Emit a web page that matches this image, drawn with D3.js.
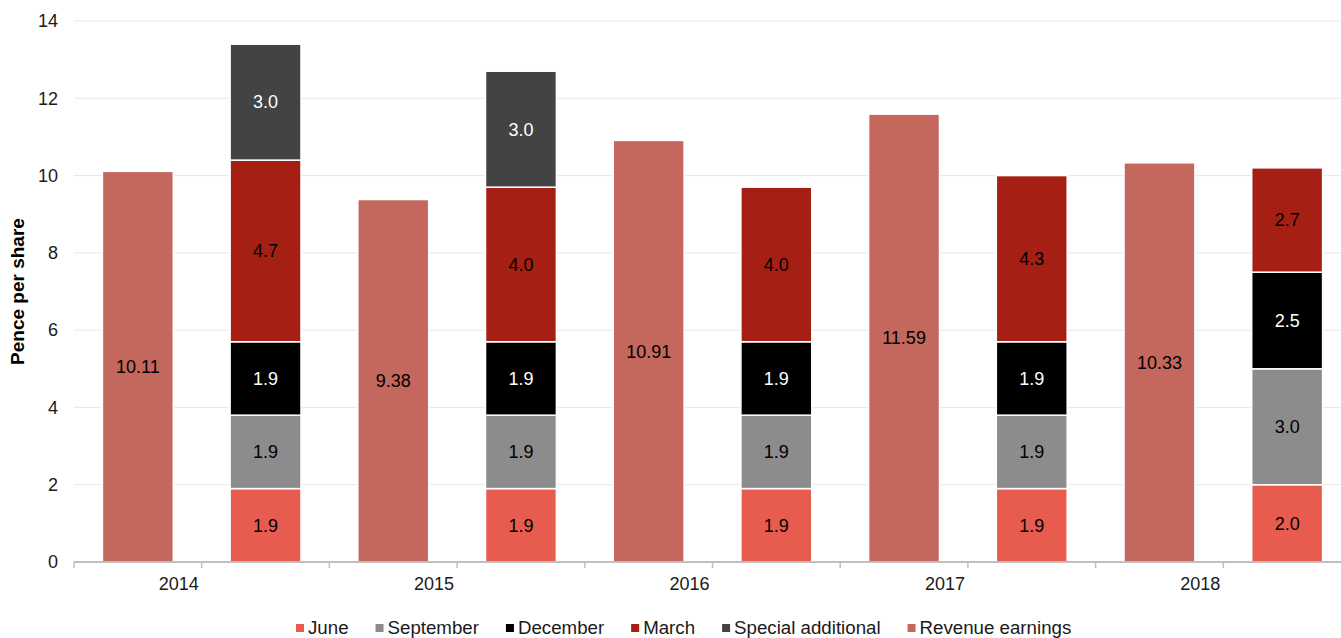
<!DOCTYPE html>
<html>
<head>
<meta charset="utf-8">
<script src="https://cdn.jsdelivr.net/npm/d3@7"></script>
<style>
  body { margin: 0; background: #fff; }
  svg { display: block; font-family: "Liberation Sans", Arial, sans-serif; }
</style>
</head>
<body>
<svg width="1341" height="638"></svg>
<script>
// data
const years = ['2014', '2015', '2016', '2017', '2018'];
const revenue = [10.11, 9.38, 10.91, 11.59, 10.33];
const june = [1.9, 1.9, 1.9, 1.9, 2.0];
const september = [1.9, 1.9, 1.9, 1.9, 3.0];
const december = [1.9, 1.9, 1.9, 1.9, 2.5];
const march = [4.7, 4.0, 4.0, 4.3, 2.7];
const special = [3.0, 3.0, 0, 0, 0];
const yTicks = [0, 2, 4, 6, 8, 10, 12, 14];

const seriesNames = ['June', 'September', 'December', 'March', 'Special additional'];
const legendNames = ['June', 'September', 'December', 'March', 'Special additional', 'Revenue earnings'];
const colors = ['#e85c4f', '#8c8c8c', '#000000', '#a51f15', '#434343', '#c4675d'];
const textColors = ['#000', '#000', '#fff', '#000', '#fff', '#000'];

let svg = d3.select('svg');
let plotL = 74, plotR = 1351, plotT = 21, plotB = 562;

let x0 = d3.scaleBand().domain(years).range([plotL, plotR]);
let x1 = d3.scaleBand().domain(['rev', 'div']).range([0, x0.bandwidth()]);
let barW = x1.bandwidth() * 0.555;
let barOff = (x1.bandwidth() - barW) / 2;

let y = d3.scaleLinear().domain([0, 14]).range([plotB, plotT]);

// gridlines
svg.append('g')
   .selectAll('line')
   .data(yTicks.slice(1))
   .enter().append('line')
   .attr('x1', plotL).attr('x2', plotR)
   .attr('y1', d => y(d)).attr('y2', d => y(d))
   .attr('stroke', '#e8e8e8').attr('stroke-width', 1);

// y axis labels
let yAxis = svg.append('g')
   .attr('transform', 'translate(' + plotL + ',0)')
   .call(d3.axisLeft(y).tickValues(yTicks).tickSize(0).tickPadding(16));
yAxis.select('.domain').remove();
yAxis.selectAll('text').attr('font-size', 18).attr('fill', '#1a1a1a')
     .attr('font-family', '"Liberation Sans", Arial, sans-serif');

svg.append('text')
   .attr('transform', 'translate(24,' + ((plotT + plotB) / 2) + ') rotate(-90)')
   .attr('text-anchor', 'middle')
   .attr('font-size', 19).attr('font-weight', 'bold')
   .text('Pence per share');

// stacked dividends
let rows = years.map((yr, i) => ({
    year: yr,
    'June': june[i], 'September': september[i], 'December': december[i],
    'March': march[i], 'Special additional': special[i]
}));
let stacked = d3.stack().keys(seriesNames)(rows);

let segs = [];
stacked.forEach((s, si) => {
    s.forEach(d => {
        if (d[1] - d[0] > 0) segs.push({ year: d.data.year, y0: d[0], y1: d[1], v: d[1] - d[0], si: si });
    });
});
years.forEach((yr, i) => segs.push({ year: yr, y0: 0, y1: revenue[i], v: revenue[i], si: 5, rev: true }));

let bars = svg.append('g');
bars.selectAll('rect')
    .data(segs)
    .enter().append('rect')
    .attr('x', d => x0(d.year) + x1(d.rev ? 'rev' : 'div') + barOff)
    .attr('width', barW)
    .attr('y', d => y(d.y1))
    .attr('height', d => y(d.y0) - y(d.y1))
    .attr('fill', d => colors[d.si])
    .attr('stroke', '#fff').attr('stroke-width', 1.5);

bars.selectAll('text')
    .data(segs)
    .enter().append('text')
    .attr('x', d => x0(d.year) + x1(d.rev ? 'rev' : 'div') + x1.bandwidth() / 2)
    .attr('y', d => y((d.y0 + d.y1) / 2))
    .attr('dy', '0.35em')
    .attr('text-anchor', 'middle')
    .attr('font-size', 18)
    .attr('fill', d => textColors[d.si])
    .text(d => d.rev ? d3.format('.2f')(d.v) : d3.format('.1f')(d.v));

// x axis
let slotEdges = [];
years.forEach(yr => { slotEdges.push(x0(yr)); slotEdges.push(x0(yr) + x1('div')); });
slotEdges.push(plotR);
let xg = svg.append('g');
xg.append('line')
  .attr('x1', plotL).attr('x2', plotR)
  .attr('y1', plotB).attr('y2', plotB)
  .attr('stroke', '#bfbfbf').attr('stroke-width', 2);
xg.selectAll('.tick')
  .data(slotEdges)
  .enter().append('line')
  .attr('x1', d => d).attr('x2', d => d)
  .attr('y1', plotB).attr('y2', plotB + 6)
  .attr('stroke', '#bfbfbf').attr('stroke-width', 1.5);
xg.selectAll('text')
  .data(years)
  .enter().append('text')
  .attr('x', d => x0(d) + x0.bandwidth() * 0.41)
  .attr('y', 590)
  .attr('text-anchor', 'middle')
  .attr('font-size', 18).attr('fill', '#1a1a1a')
  .text(d => d);

// legend
let legend = svg.append('g');
let lx = 296;
legendNames.forEach((name, i) => {
    legend.append('rect')
          .attr('x', lx).attr('y', 624)
          .attr('width', 8).attr('height', 8)
          .attr('fill', colors[i]);
    let t = legend.append('text')
          .attr('x', lx + 12).attr('y', 634)
          .attr('font-size', 18.7).attr('fill', '#1a1a1a')
          .text(name);
    lx += 12 + t.node().getComputedTextLength() + 27;
});
</script>
</body>
</html>
